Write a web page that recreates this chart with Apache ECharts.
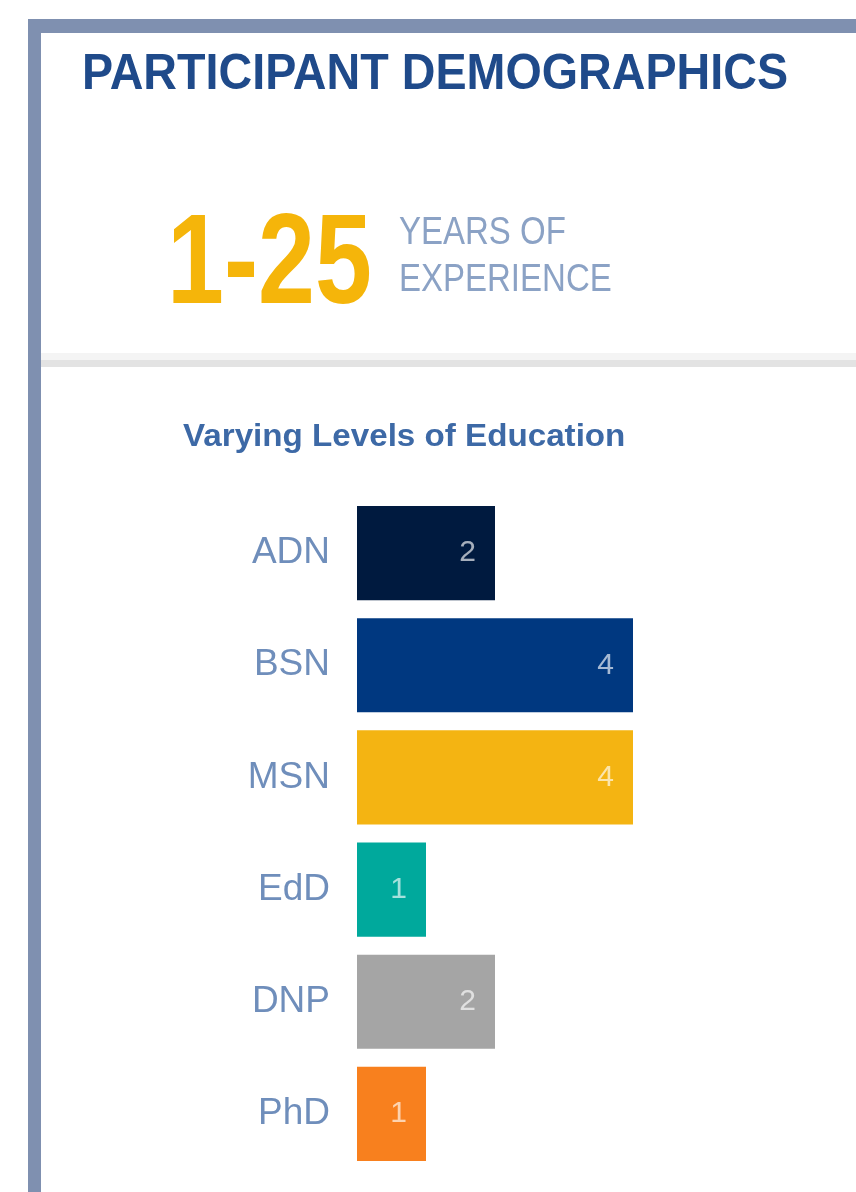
<!DOCTYPE html>
<html>
<head>
<meta charset="utf-8">
<title>Participant Demographics</title>
<script src="https://cdn.jsdelivr.net/npm/echarts@6/dist/echarts.min.js"></script>
<style>
  html, body { margin: 0; padding: 0; background: #fff; }
  #chart { width: 856px; height: 1192px; }
</style>
</head>
<body>
<div id="chart"></div>
<script>
// education levels and participant counts
var categories = ['ADN', 'BSN', 'MSN', 'EdD', 'DNP', 'PhD'];
var counts = [2, 4, 4, 1, 2, 1];
var barColors = ['#001a3f', '#003880', '#f4b412', '#00a99c', '#a5a5a5', '#f8801e'];

var titleText = 'PARTICIPANT DEMOGRAPHICS';
var yearsText = '1-25';
var yearsLabel = ['YEARS OF', 'EXPERIENCE'];
var subTitle = 'Varying Levels of Education';

var FONT = '"Liberation Sans", Arial, sans-serif';

var chart = echarts.init(document.getElementById('chart'));

var option = {
  backgroundColor: '#ffffff',
  animation: false,
  graphic: [
    // frame: top bar + left bar
    { type: 'rect', shape: { x: 28, y: 19, width: 828, height: 14 }, style: { fill: '#7f90b0' } },
    { type: 'rect', shape: { x: 28, y: 19, width: 13, height: 1173 }, style: { fill: '#7f90b0' } },
    // separator
    { type: 'rect', shape: { x: 41, y: 353, width: 815, height: 7 }, style: { fill: '#f4f4f4' } },
    { type: 'rect', shape: { x: 41, y: 360, width: 815, height: 7 }, style: { fill: '#e3e3e3' } },
    {
      type: 'text', x: 82, y: 51, scaleX: 1.037, scaleY: 1.1,
      style: { text: titleText, font: 'bold 45px ' + FONT, fill: '#1f4a8a' }
    },
    {
      type: 'text', x: 167, y: 204, scaleX: 0.8,
      style: { text: yearsText, font: 'bold 128px ' + FONT, fill: '#f5b50a' }
    },
    {
      type: 'text', x: 399, y: 215, scaleY: 1.15,
      style: { text: yearsLabel[0], font: '33px ' + FONT, fill: '#8ba2c5' }
    },
    {
      type: 'text', x: 399, y: 262, scaleY: 1.15,
      style: { text: yearsLabel[1], font: '33px ' + FONT, fill: '#8ba2c5' }
    },
    {
      type: 'text', x: 183, y: 422, scaleX: 1.07,
      style: { text: subTitle, font: 'bold 31px ' + FONT, fill: '#3d69a6' }
    }
  ],
  grid: {
    left: 357,
    right: 223,
    top: 497,
    bottom: 22
  },
  xAxis: {
    type: 'value',
    min: 0,
    max: 4,
    show: false
  },
  yAxis: {
    type: 'category',
    data: categories,
    inverse: true,
    axisLine: { show: false },
    axisTick: { show: false },
    axisLabel: {
      margin: 27,
      fontSize: 37,
      fontFamily: FONT,
      color: '#6f8ebb'
    }
  },
  series: [{
    type: 'bar',
    barCategoryGap: '16%',
    data: counts.map(function (v, i) {
      return { value: v, itemStyle: { color: barColors[i] } };
    }),
    label: {
      show: true,
      position: 'insideRight',
      distance: 19,
      fontSize: 30,
      fontFamily: FONT,
      color: 'rgba(255,255,255,0.65)'
    }
  }]
};

chart.setOption(option);
</script>
</body>
</html>
